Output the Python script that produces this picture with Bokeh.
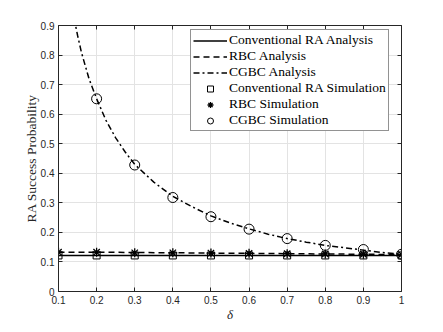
from bokeh.plotting import figure
from bokeh.models import LinearAxis, FixedTicker, Range1d, Legend, LegendItem, Grid
from bokeh.embed import file_html
from bokeh.resources import INLINE

# ---- data ----
x_sim = [0.1, 0.2, 0.3, 0.4, 0.5, 0.6, 0.7, 0.8, 0.9, 1.0]
conv_analysis = [0.122, 0.122, 0.122, 0.122, 0.122, 0.122, 0.122, 0.122, 0.122, 0.122]
rbc_analysis = [0.133, 0.133, 0.132, 0.131, 0.130, 0.129, 0.128, 0.127, 0.126, 0.125]
conv_sim = [0.122, 0.122, 0.122, 0.122, 0.122, 0.122, 0.122, 0.122, 0.122, 0.122]
rbc_sim = [0.133, 0.133, 0.131, 0.131, 0.130, 0.129, 0.128, 0.127, 0.126, 0.125]

x_cgbc = [0.1, 0.11, 0.12, 0.13, 0.14, 0.15, 0.16, 0.18, 0.2, 0.225, 0.25, 0.275,
          0.3, 0.35, 0.4, 0.45, 0.5, 0.55, 0.6, 0.65, 0.7, 0.75, 0.8, 0.85,
          0.9, 0.95, 1.0]
cgbc_analysis = [1.30, 1.18, 1.08, 1.00, 0.93, 0.867, 0.81, 0.72, 0.652, 0.578,
                 0.52, 0.472, 0.43, 0.37, 0.322, 0.287, 0.256, 0.232, 0.212,
                 0.194, 0.179, 0.167, 0.156, 0.148, 0.14, 0.132, 0.126]
x_cgbc_sim = [0.2, 0.3, 0.4, 0.5, 0.6, 0.7, 0.8, 0.9, 1.0]
cgbc_sim = [0.652, 0.428, 0.318, 0.253, 0.211, 0.179, 0.156, 0.142, 0.126]

x_ticks = [0.1, 0.2, 0.3, 0.4, 0.5, 0.6, 0.7, 0.8, 0.9, 1.0]
y_ticks = [0, 0.1, 0.2, 0.3, 0.4, 0.5, 0.6, 0.7, 0.8, 0.9]
x_labels = {0.1: "0.1", 0.2: "0.2", 0.3: "0.3", 0.4: "0.4", 0.5: "0.5",
            0.6: "0.6", 0.7: "0.7", 0.8: "0.8", 0.9: "0.9", 1.0: "1"}
y_labels = {0: "0", 0.1: "0.1", 0.2: "0.2", 0.3: "0.3", 0.4: "0.4",
            0.5: "0.5", 0.6: "0.6", 0.7: "0.7", 0.8: "0.8", 0.9: "0.9"}

AX = "#262626"
SERIF = "Liberation Serif"
SANS = "Liberation Sans"

p = figure(width=435, height=324, output_backend="svg", toolbar_location=None,
           x_range=Range1d(0.1, 1.0), y_range=Range1d(0, 0.9),
           x_axis_type=None, y_axis_type=None,
           min_border_left=58, min_border_right=34, min_border_top=25,
           min_border_bottom=29)
p.outline_line_color = None
p.background_fill_color = "white"
p.border_fill_color = "white"

def style_axis(ax, show_labels, ticks, overrides):
    ax.ticker = FixedTicker(ticks=ticks)
    ax.major_label_overrides = overrides
    ax.axis_line_color = AX
    ax.axis_line_width = 1
    ax.major_tick_line_color = AX
    ax.major_tick_in = 4
    ax.major_tick_out = 0
    ax.minor_tick_line_color = None
    ax.major_label_text_font = SANS
    ax.major_label_text_font_size = "10px"
    ax.major_label_text_color = AX
    ax.major_label_standoff = 4
    if not show_labels:
        ax.major_label_text_alpha = 0
        ax.major_label_text_font_size = "1px"
        ax.major_label_standoff = 0

xb = LinearAxis(axis_label="δ")
style_axis(xb, True, x_ticks, x_labels)
xb.major_label_standoff = 4
xb.axis_label_text_font = SERIF
xb.axis_label_text_font_style = "italic"
xb.axis_label_text_font_size = "13px"
xb.axis_label_text_color = AX
xb.axis_label_standoff = 0
p.add_layout(xb, "below")

yl = LinearAxis(axis_label="RA Success Probability")
style_axis(yl, True, y_ticks, y_labels)
yl.axis_label_text_font = SERIF
yl.axis_label_text_font_style = "normal"
yl.axis_label_text_font_size = "13.5px"
yl.axis_label_text_color = AX
yl.axis_label_standoff = -1
p.add_layout(yl, "left")

xt = LinearAxis()
style_axis(xt, False, x_ticks, x_labels)
p.add_layout(xt, "above")
yr = LinearAxis()
style_axis(yr, False, y_ticks, y_labels)
p.add_layout(yr, "right")

p.add_layout(Grid(dimension=0, ticker=FixedTicker(ticks=x_ticks),
                  grid_line_color="#e3e3e3", grid_line_width=1))
p.add_layout(Grid(dimension=1, ticker=FixedTicker(ticks=y_ticks),
                  grid_line_color="#e3e3e3", grid_line_width=1))

r1 = p.line(x_sim, conv_analysis, line_color="black", line_width=1.5)
r2 = p.line(x_sim, rbc_analysis, line_color="black", line_width=1.5, line_dash="6 4")
r3 = p.line(x_cgbc, cgbc_analysis, line_color="black", line_width=1.5,
            line_dash="6 3 2 3")
r4 = p.scatter(x_sim, conv_sim, marker="square", size=7, fill_color=None,
               line_color="black", line_width=1)
r5 = p.scatter(x_sim, rbc_sim, marker="asterisk", size=9,
               line_color="black", line_width=1.3)
r6 = p.scatter(x_cgbc_sim, cgbc_sim, marker="circle", size=10, fill_color=None,
               line_color="black", line_width=1)

legend = Legend(items=[
    LegendItem(label="Conventional RA Analysis", renderers=[r1]),
    LegendItem(label="RBC Analysis", renderers=[r2]),
    LegendItem(label="CGBC Analysis", renderers=[r3]),
    LegendItem(label="Conventional RA Simulation", renderers=[r4]),
    LegendItem(label="RBC Simulation", renderers=[r5]),
    LegendItem(label="CGBC Simulation", renderers=[r6]),
], location=(132, 160))
legend.margin = 0
legend.padding = 2
legend.spacing = 0
legend.label_height = 15
legend.glyph_height = 15
legend.glyph_width = 34
legend.label_standoff = 2
legend.label_text_font = SERIF
legend.label_text_font_size = "13.5px"
legend.label_text_color = "black"
legend.border_line_color = AX
legend.border_line_width = 1
legend.background_fill_color = "white"
legend.background_fill_alpha = 1
p.add_layout(legend, "center")

open("out.html", "w").write(file_html(p, INLINE))
